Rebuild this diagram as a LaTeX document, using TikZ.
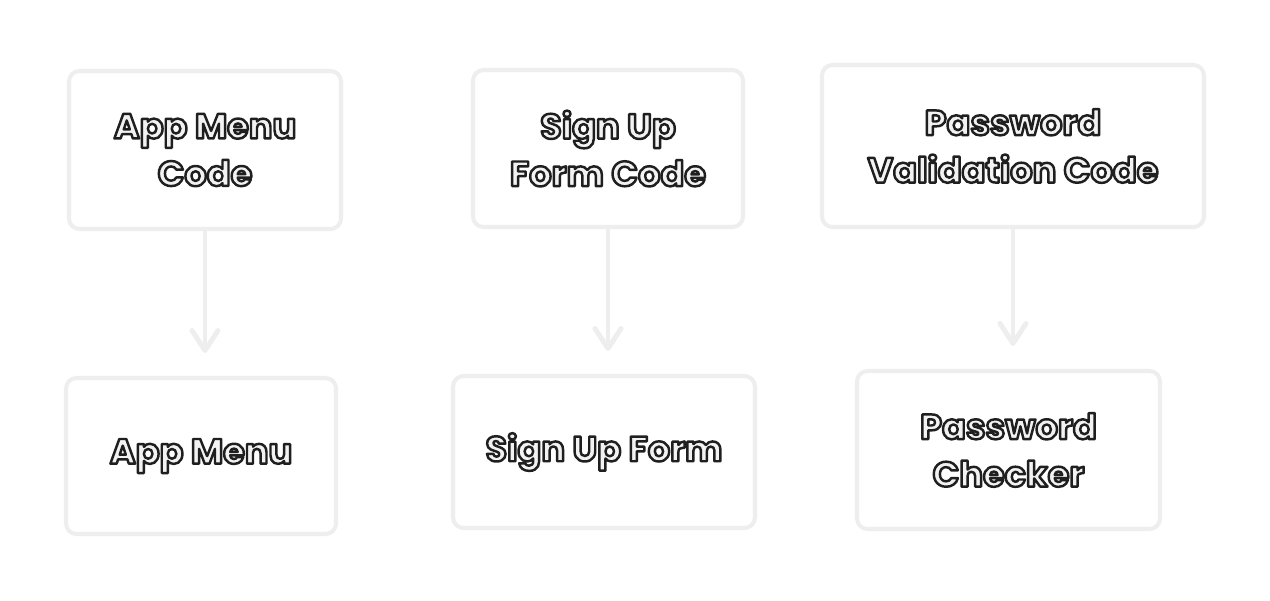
\documentclass[tikz,border=0pt]{standalone}
\usepackage{fontspec}
\setmainfont{Poppins}
\usetikzlibrary{arrows.meta}
\definecolor{boxgrey}{HTML}{EEEEEE}
\definecolor{inkfill}{HTML}{F2F2F2}
% outlined lettering: fill light, stroke dark
\newcommand{\outl}[1]{\textcolor{inkfill}{\special{pdf:literal direct 2 Tr 1.4 w 1 j 0.12 0.12 0.12 RG}#1\special{pdf:literal direct 0 Tr}}}
\tikzset{
  codebox/.style={draw=boxgrey, line width=2.3pt, rounded corners=6pt, fill=white,
    align=center, font=\fontsize{20}{27}\selectfont\bfseries},
  flow/.style={draw=boxgrey, line width=2.8pt, line cap=round,
    -{Straight Barb[length=4mm, width=5.2mm, line cap=round, line join=round]}, shorten >=0.46cm}
}
\begin{document}
\begin{tikzpicture}
\useasboundingbox[fill=white] (0,0) rectangle (25.4,12);
% top row: source code
\node[codebox, minimum width=5.44cm, minimum height=3.16cm] (menucode) at (4.10,9.00) {\outl{App Menu}\\\outl{Code}};
\node[codebox, minimum width=5.40cm, minimum height=3.14cm] (signcode) at (12.16,9.03) {\outl{Sign Up}\\\outl{Form Code}};
\node[codebox, minimum width=7.64cm, minimum height=3.24cm] (passcode) at (20.26,9.08) {\outl{Password}\\\outl{Validation Code}};
% bottom row: what it builds
\node[codebox, minimum width=5.40cm, minimum height=3.12cm] (menu) at (4.02,2.88) {\outl{App Menu}};
\node[codebox, minimum width=6.04cm, minimum height=3.04cm] (signform) at (12.08,2.96) {\outl{Sign Up Form}};
\node[codebox, minimum width=6.06cm, minimum height=3.16cm] (checker) at (20.17,3.00) {\outl{Password}\\\outl{Checker}};
\draw[flow] (menucode.south) -- (menucode.south |- menu.north);
\draw[flow] (signcode.south) -- (signcode.south |- signform.north);
\draw[flow] (passcode.south) -- (passcode.south |- checker.north);
\end{tikzpicture}
\end{document}
